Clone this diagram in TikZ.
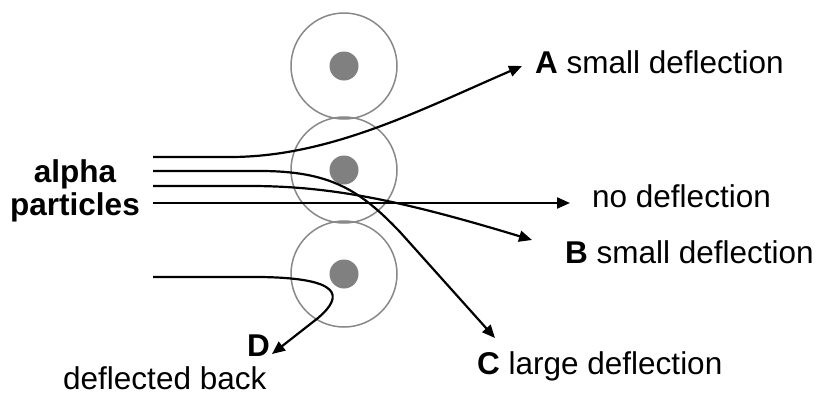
\documentclass[tikz,border=0pt]{standalone}
\usepackage{fontspec}
\setmainfont{Liberation Sans}
\usetikzlibrary{arrows.meta}

\definecolor{atomgray}{HTML}{888888}
\definecolor{nucgray}{HTML}{808080}

\tikzset{
    atom/.style={draw=atomgray, line width=1.5pt},
    nucleus/.style={fill=nucgray},
    track/.style={line width=2.2pt, -{Triangle[length=13pt,width=11pt]}},
    lbl/.style={inner sep=0pt, anchor=base west, font=\fontsize{31.5}{36}\selectfont}
}

\begin{document}
\begin{tikzpicture}[x=1pt,y=-1pt]
\useasboundingbox (0,0) rectangle (819,394);

% atoms with nuclei
\def\Aradius{53}
\foreach \v/\n in 
{   66/top,
    170/mid,
    274/bot
}
{
    \coordinate (c\n) at (344, \v);
    \draw[atom] (c\n) circle (\Aradius);
    \fill[nucleus] (c\n) circle (14.5);
};

% start and end points of the tracks
\coordinate (cAS) at (153, 157);
\coordinate (cCS) at (153, 171);
\coordinate (cBS) at (153, 186);
\coordinate (cNS) at (153, 203);
\coordinate (cDS) at (153, 277);

\coordinate (cAE) at (522, 66);
\coordinate (cNE) at (570, 203);
\coordinate (cBE) at (532, 240);
\coordinate (cCE) at (495, 338);
\coordinate (cDE) at (272, 354);

\draw[track] (cAS) -- (230, 157) .. controls (330, 157) and (420, 110) .. (cAE);
\draw[track] (cNS) -- (cNE);
\draw[track] (cBS) -- (250, 186) .. controls (330, 186) and (400, 200) .. (cBE);
\draw[track] (cCS) -- (260, 171) .. controls (330, 171) and (360, 190) .. (400, 232) -- (cCE);
\draw[track] (cDS) -- (260, 277) .. controls (340, 278) and (345, 295) .. (318, 318) -- (cDE);

% labels
\node[lbl] (lA) at (535, 73) {\textbf{A} small deflection};
\node[lbl] (lN) at (592, 207) {no deflection};
\node[lbl] (lB) at (565, 263) {\textbf{B} small deflection};
\node[lbl] (lC) at (477, 374) {\textbf{C} large deflection};
\node[lbl] (lD) at (247, 356) {\textbf{D}};
\node[lbl] (lBack) at (63, 389) {deflected back};
\node[lbl, anchor=base] (lAlpha) at (75, 182) {\textbf{alpha}};
\node[lbl, anchor=base] (lPart) at (75, 215) {\textbf{particles}};

\end{tikzpicture}
\end{document}
